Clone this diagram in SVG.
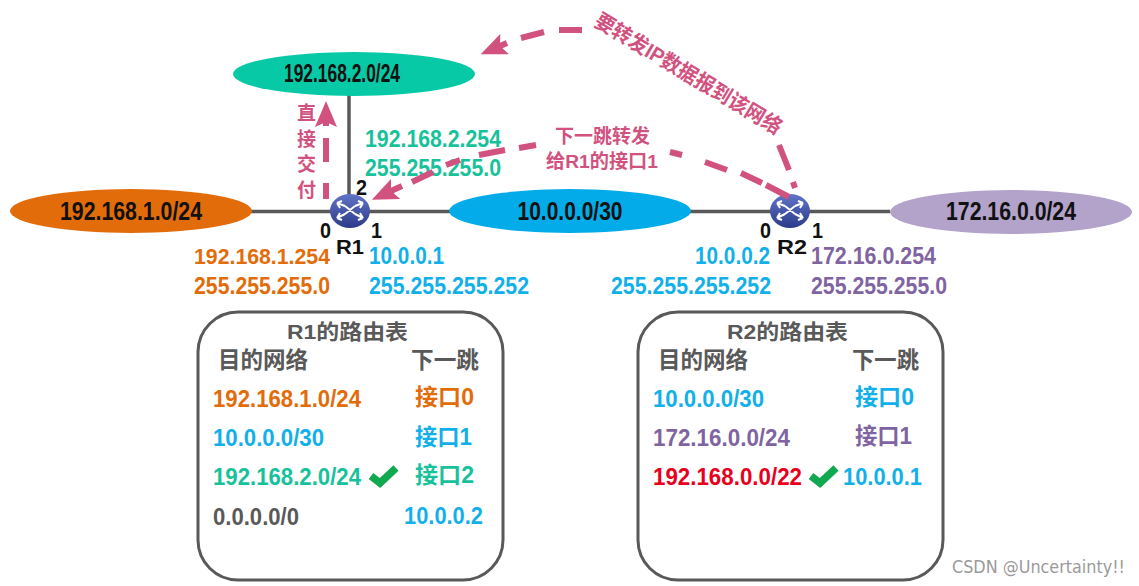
<svg xmlns="http://www.w3.org/2000/svg" width="1139" height="586" viewBox="0 0 1139 586">
<style>
text{font-family:"Liberation Sans","Noto Sans CJK SC",sans-serif;font-weight:bold}
.net{font-size:25px;fill:#111;text-anchor:middle}
.ip{font-size:24.500px}
.ip1{font-size:23px}
.ip0{font-size:21.500px}
.cn{font-size:23px}
.port{font-size:22px;fill:#111}
.rn{font-size:20px;fill:#111;text-anchor:middle}
.pink{font-size:19px;fill:#d2527f}
.grey{fill:#595959}
.org{fill:#e36c0a}.blu{fill:#12b0ea}.grn{fill:#17c29b}.pur{fill:#8064a2}.red{fill:#e8001c}
.box{fill:#fff;stroke:#595959;stroke-width:3}
.wire{fill:none;stroke:#595959;stroke-width:3.500}
.dash{fill:none;stroke:#d2527f;stroke-width:6}
.check{fill:none;stroke:#10a94f;stroke-width:7.500}
.rarrow{fill:none;stroke:#fff;stroke-width:2}
</style>
<defs>
<marker id="ah" markerUnits="userSpaceOnUse" markerWidth="28" markerHeight="22" refX="5" refY="11" orient="auto"><path d="M0,0 L26,11 L0,22 L5,11 Z" fill="#d2527f"/></marker>
<linearGradient id="rg" x1="0" y1="0" x2="0" y2="1"><stop offset="0" stop-color="#6075c8"/><stop offset="1" stop-color="#2c3a8a"/></linearGradient>
<g id="router"><ellipse cx="0" cy="0" rx="20" ry="17" fill="url(#rg)"/><path class="rarrow" d="M-13,-8 L-5,-5 M-13,-8 L-10,-3 M-13,-8 L-8,-10 M13,-8 L5,-5 M13,-8 L10,-3 M13,-8 L8,-10 M-13,7 L-5,3 M-13,7 L-10,2 M-13,7 L-8,9 M13,7 L5,3 M13,7 L10,2 M13,7 L8,9 M-5,-5 L5,3 M5,-5 L-5,3"/></g>
</defs>
<rect width="1139" height="586" fill="#fff"/>
<g id="connectors">
<path class="wire" d="M250,211.500 H890 M349,95 V200"/>
</g>
<g id="net-green"><ellipse cx="354" cy="74" rx="121" ry="22" fill="#08c9a5"/><text class="net" x="342" y="82" textLength="116" lengthAdjust="spacingAndGlyphs">192.168.2.0/24</text></g>
<g id="net-orange"><ellipse cx="131" cy="211" rx="121" ry="22" fill="#e36c0a"/><text class="net" x="131" y="220" textLength="142" lengthAdjust="spacingAndGlyphs">192.168.1.0/24</text></g>
<g id="net-blue"><ellipse cx="570" cy="211" rx="121" ry="22" fill="#03ace8"/><text class="net" x="570" y="220" textLength="105" lengthAdjust="spacingAndGlyphs">10.0.0.0/30</text></g>
<g id="net-purple"><ellipse cx="1011" cy="212" rx="121" ry="22" fill="#b3a2c9"/><text class="net" x="1011" y="220" textLength="130" lengthAdjust="spacingAndGlyphs">172.16.0.0/24</text></g>
<g id="R1"><use href="#router" x="350" y="211"/><text class="port" x="320" y="238" textLength="11" lengthAdjust="spacingAndGlyphs">0</text><text class="port" x="371" y="238" textLength="11" lengthAdjust="spacingAndGlyphs">1</text><text class="port" x="356" y="195" textLength="11" lengthAdjust="spacingAndGlyphs">2</text><text class="rn" x="350" y="254" textLength="28" lengthAdjust="spacingAndGlyphs">R1</text></g>
<g id="R2"><use href="#router" x="790" y="211"/><text class="port" x="760" y="238" textLength="11" lengthAdjust="spacingAndGlyphs">0</text><text class="port" x="812" y="238" textLength="11" lengthAdjust="spacingAndGlyphs">1</text><text class="rn" x="792" y="254" textLength="30" lengthAdjust="spacingAndGlyphs">R2</text></g>
<g id="addresses">
<text class="ip grn" x="365" y="147" textLength="136" lengthAdjust="spacingAndGlyphs">192.168.2.254</text>
<text class="ip grn" x="365" y="176" textLength="136" lengthAdjust="spacingAndGlyphs">255.255.255.0</text>
<text class="ip0 org" x="194" y="264" textLength="136" lengthAdjust="spacingAndGlyphs">192.168.1.254</text>
<text class="ip org" x="194" y="294" textLength="136" lengthAdjust="spacingAndGlyphs">255.255.255.0</text>
<text class="ip1 blu" x="369" y="264" textLength="75" lengthAdjust="spacingAndGlyphs">10.0.0.1</text>
<text class="ip blu" x="369" y="294" textLength="160" lengthAdjust="spacingAndGlyphs">255.255.255.252</text>
<text class="ip1 blu" x="695" y="264" textLength="75" lengthAdjust="spacingAndGlyphs">10.0.0.2</text>
<text class="ip blu" x="611" y="294" textLength="160" lengthAdjust="spacingAndGlyphs">255.255.255.252</text>
<text class="ip1 pur" x="811" y="264" textLength="125" lengthAdjust="spacingAndGlyphs">172.16.0.254</text>
<text class="ip pur" x="811" y="294" textLength="136" lengthAdjust="spacingAndGlyphs">255.255.255.0</text>
</g>
<g id="arrows">
<path class="dash" d="M326,199 V183 M326,162 V138 M326,126 V122" marker-end="url(#ah)"/>
<path class="dash" d="M582,30 L559,30 M544,32 L521,38 M507,43 L500,46" marker-end="url(#ah)"/>
<path class="dash" d="M779,145 L789,170 M793,182 L795,188"/>
<path class="dash" d="M789,197 L766,185 M762,183 L741,173 M727,170 L705,162 M682,155 L670,152 M536,145 L519,148 M505,150 L479,155 M460,160 L446,165 M433,172 L412,182 M402,186 L391,191" marker-end="url(#ah)"/>
</g>
<g id="arrow-labels">
<text class="pink" x="297" y="120">直</text>
<text class="pink" x="297" y="146">接</text>
<text class="pink" x="297" y="171">交</text>
<text class="pink" x="297" y="197">付</text>
<text class="pink" x="555" y="143" textLength="95" lengthAdjust="spacingAndGlyphs">下一跳转发</text>
<text class="pink" x="546" y="168" textLength="112" lengthAdjust="spacingAndGlyphs">给R1的接口1</text>
<text class="pink" transform="translate(593,25) rotate(31)" textLength="214" lengthAdjust="spacingAndGlyphs" style="font-size:21px">要转发IP数据报到该网络</text>
</g>
<g id="table-R1">
<rect class="box" x="198" y="312" width="305" height="268" rx="40"/>
<text class="grey" x="287" y="339" font-size="21" textLength="121" lengthAdjust="spacingAndGlyphs">R1的路由表</text>
<text class="grey" x="218" y="368" font-size="23" textLength="90" lengthAdjust="spacingAndGlyphs">目的网络</text>
<text class="grey" x="411" y="368" font-size="23" textLength="68" lengthAdjust="spacingAndGlyphs">下一跳</text>
<text class="ip org" x="213" y="407" textLength="148" lengthAdjust="spacingAndGlyphs">192.168.1.0/24</text>
<text class="ip blu" x="213" y="446" textLength="111" lengthAdjust="spacingAndGlyphs">10.0.0.0/30</text>
<text class="ip grn" x="213" y="485" textLength="148" lengthAdjust="spacingAndGlyphs">192.168.2.0/24</text>
<text class="ip grey" x="213" y="525" textLength="86" lengthAdjust="spacingAndGlyphs">0.0.0.0/0</text>
<text class="cn org" x="415" y="405" textLength="59" lengthAdjust="spacingAndGlyphs">接口0</text>
<text class="cn blu" x="415" y="445" textLength="57" lengthAdjust="spacingAndGlyphs">接口1</text>
<text class="cn grn" x="415" y="483" textLength="59" lengthAdjust="spacingAndGlyphs">接口2</text>
<text class="ip blu" x="404" y="524" textLength="79" lengthAdjust="spacingAndGlyphs">10.0.0.2</text>
<path class="check" d="M371,476 L380,483 L396,468"/>
</g>
<g id="table-R2">
<rect class="box" x="638" y="312" width="305" height="268" rx="40"/>
<text class="grey" x="727" y="339" font-size="21" textLength="121" lengthAdjust="spacingAndGlyphs">R2的路由表</text>
<text class="grey" x="658" y="368" font-size="23" textLength="90" lengthAdjust="spacingAndGlyphs">目的网络</text>
<text class="grey" x="852" y="368" font-size="23" textLength="67" lengthAdjust="spacingAndGlyphs">下一跳</text>
<text class="ip blu" x="653" y="407" textLength="111" lengthAdjust="spacingAndGlyphs">10.0.0.0/30</text>
<text class="ip pur" x="653" y="446" textLength="137" lengthAdjust="spacingAndGlyphs">172.16.0.0/24</text>
<text class="ip red" x="653" y="485" textLength="149" lengthAdjust="spacingAndGlyphs">192.168.0.0/22</text>
<text class="cn blu" x="855" y="405" textLength="59" lengthAdjust="spacingAndGlyphs">接口0</text>
<text class="cn pur" x="855" y="444" textLength="57" lengthAdjust="spacingAndGlyphs">接口1</text>
<text class="ip blu" x="843" y="485" textLength="79" lengthAdjust="spacingAndGlyphs">10.0.0.1</text>
<path class="check" d="M811,476 L820,483 L836,468"/>
</g>
<text x="952" y="573" font-size="17" fill="#9a9a9a" style="font-weight:normal;font-family:'DejaVu Sans',sans-serif" textLength="173" lengthAdjust="spacingAndGlyphs">CSDN @Uncertainty!!</text>
</svg>
